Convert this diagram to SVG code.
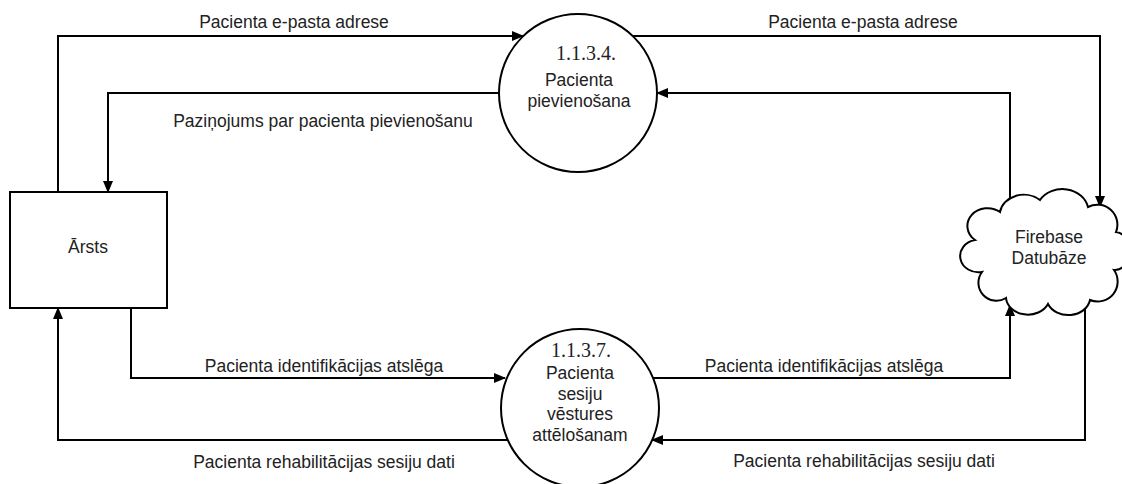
<svg xmlns="http://www.w3.org/2000/svg" width="1122" height="484" viewBox="0 0 1122 484">
<defs>
<marker id="arr" markerWidth="12" markerHeight="10" refX="11" refY="5" orient="auto" markerUnits="userSpaceOnUse">
<path d="M0,0 L12,5 L0,10 Z" fill="#000"/>
</marker>
<style>
.ln{fill:none;stroke:#000;stroke-width:2}
.shape{fill:#fff;stroke:#000;stroke-width:2}
.t{font-family:"Liberation Sans",Arial,sans-serif;font-size:17.5px;fill:#222;text-anchor:middle}
.n{font-family:"Liberation Serif","Times New Roman",serif;font-size:20px;fill:#222;text-anchor:middle}
</style>
</defs>
<rect width="1122" height="484" fill="#fff"/>
<g id="connectors">
<path class="ln" d="M58,192 V36 H523" marker-end="url(#arr)"/>
<path class="ln" d="M499,93 H108 V192" marker-end="url(#arr)"/>
<path class="ln" d="M633,36 H1100 V207" marker-end="url(#arr)"/>
<path class="ln" d="M1010,200 V93 H657" marker-end="url(#arr)"/>
<path class="ln" d="M131,308 V378 H505" marker-end="url(#arr)"/>
<path class="ln" d="M508,440 H58 V308" marker-end="url(#arr)"/>
<path class="ln" d="M653,378 H1010 V305" marker-end="url(#arr)"/>
<path class="ln" d="M1085,305 V440 H652" marker-end="url(#arr)"/>
<text class="t" x="294" y="28">Pacienta e-pasta adrese</text>
<text class="t" x="323" y="127">Paziņojums par pacienta pievienošanu</text>
<text class="t" x="863" y="28">Pacienta e-pasta adrese</text>
<text class="t" x="324" y="372">Pacienta identifikācijas atslēga</text>
<text class="t" x="324" y="468">Pacienta rehabilitācijas sesiju dati</text>
<text class="t" x="824" y="372">Pacienta identifikācijas atslēga</text>
<text class="t" x="864" y="467">Pacienta rehabilitācijas sesiju dati</text>
</g>
<g id="arsts">
<rect class="shape" x="10" y="192" width="157" height="116"/>
<text class="t" x="88" y="253">Ārsts</text>
</g>
<g id="p1134">
<circle class="shape" cx="578" cy="93" r="79"/>
<text class="n" x="586" y="60">1.1.3.4.</text>
<text class="t" x="579" y="86">Pacienta</text>
<text class="t" x="579" y="107">pievienošana</text>
</g>
<g id="p1137">
<circle class="shape" cx="580" cy="408" r="79"/>
<text class="n" x="581" y="357">1.1.3.7.</text>
<text class="t" x="580" y="379">Pacienta</text>
<text class="t" x="580" y="400">sesiju</text>
<text class="t" x="580" y="420">vēstures</text>
<text class="t" x="580" y="441">attēlošanam</text>
</g>
<g id="firebase">
<path class="shape" d="M1000,212 A24,20 0 0 1 1040,200 A26,22 0 0 1 1088,207 A20,20 0 0 1 1116,232 A14,18 0 0 1 1114,270 A20,20 0 0 1 1090,300 A22,18 0 0 1 1048,304 A22,18 0 0 1 1006,298 A18,18 0 0 1 982,272 A18,16 0 0 1 975,240 A18,16 0 0 1 1000,212 Z"/>
<text class="t" x="1049" y="243">Firebase</text>
<text class="t" x="1049" y="264">Datubāze</text>
</g>
</svg>
